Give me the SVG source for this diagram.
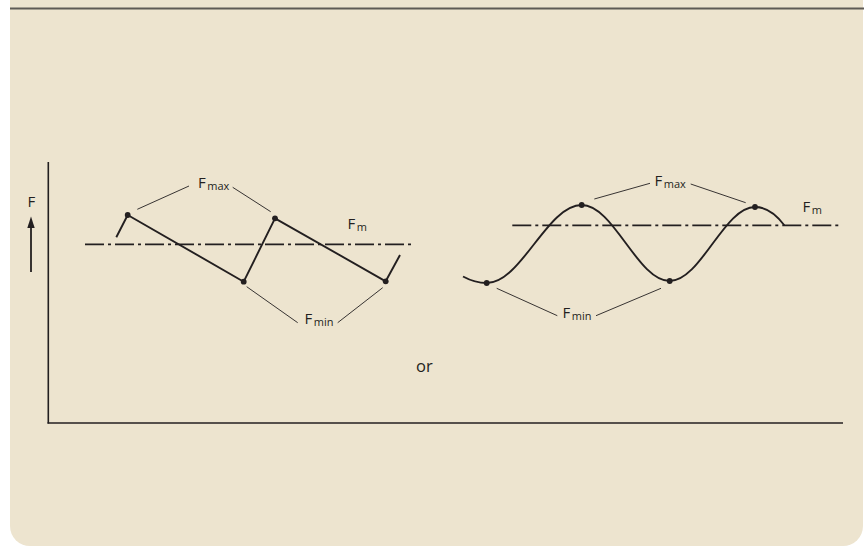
<svg xmlns="http://www.w3.org/2000/svg" width="864" height="546" viewBox="0 0 864 546">
<style>
  .lbl{font-family:"Open Sans","Liberation Sans",sans-serif;font-size:15px;fill:#231f20}
  .sub{font-size:11px}
  .curve{fill:none;stroke:#231f20;stroke-width:1.9;stroke-linejoin:round}
  .lead{fill:none;stroke:#231f20;stroke-width:0.9}
  .axis{fill:none;stroke:#231f20;stroke-width:1.6}
  .center{fill:none;stroke:#231f20;stroke-width:1.7;stroke-dasharray:19 4 3 4}
  .dot{fill:#231f20}
</style>
<rect x="0" y="0" width="864" height="546" fill="#ffffff"/>
<path d="M10,0 H863 V526 A20,20 0 0 1 843,546 H30 A20,20 0 0 1 10,526 Z" fill="#ede4cf"/>
<line x1="10" y1="8.5" x2="864" y2="8.5" stroke="#5e5a55" stroke-width="2"/>

<g id="axes">
  <line class="axis" x1="48.3" y1="162" x2="48.3" y2="423.5"/>
  <line class="axis" x1="47.5" y1="423" x2="843" y2="423"/>
</g>
<g id="f-axis-label">
  <text class="lbl" x="27.5" y="206.5">F</text>
  <line x1="31" y1="272" x2="31" y2="226" stroke="#231f20" stroke-width="1.8"/>
  <polygon class="dot" points="31,216.5 27.3,228 34.7,228"/>
</g>

<g id="connectors">
  <line class="center" x1="85" y1="244.3" x2="414" y2="244.3"/>
  <polyline class="curve" points="116.3,237.3 127.7,215 243.7,281.7 275,218.3 385.7,281.3 400,255"/>
  <line class="lead" x1="137.3" y1="209.3" x2="189" y2="186"/>
  <line class="lead" x1="232.7" y1="187.3" x2="270.7" y2="211.7"/>
  <line class="lead" x1="246.7" y1="286.7" x2="297.7" y2="322.7"/>
  <line class="lead" x1="337.7" y1="322.7" x2="382.7" y2="287.7"/>
  <line class="center" x1="512.3" y1="225.3" x2="841.7" y2="225.3"/>
  <path class="curve" d="M463,276.5 Q475,283 486.7,283 C521.3,283 547.1,205 581.7,205 C613.8,205 637.6,281 669.7,281 C700.7,281 724,207 755,207 C767,207 776,214 784.3,225.3"/>
  <line class="lead" x1="594.3" y1="199" x2="650" y2="183.3"/>
  <line class="lead" x1="690.7" y1="184" x2="745.7" y2="202.7"/>
  <line class="lead" x1="496.7" y1="288.3" x2="557.3" y2="315.7"/>
  <line class="lead" x1="596" y1="315.7" x2="661" y2="288.3"/>
</g>

<g id="left-points">
  <circle class="dot" cx="127.7" cy="215" r="2.9"/>
  <circle class="dot" cx="243.7" cy="281.7" r="2.9"/>
  <circle class="dot" cx="275" cy="218.3" r="2.9"/>
  <circle class="dot" cx="385.7" cy="281.3" r="2.9"/>
</g>
<g id="right-points">
  <circle class="dot" cx="486.7" cy="283" r="2.9"/>
  <circle class="dot" cx="581.7" cy="205" r="2.9"/>
  <circle class="dot" cx="669.7" cy="281" r="2.9"/>
  <circle class="dot" cx="755" cy="207" r="2.9"/>
</g>

<g id="label-fmax-left"><text class="lbl" x="198" y="187.5">F<tspan class="sub" dx="1.5" dy="2">max</tspan></text></g>
<g id="label-fm-left"><text class="lbl" x="347.5" y="228.5">F<tspan class="sub" dx="1.5" dy="2">m</tspan></text></g>
<g id="label-fmin-left"><text class="lbl" x="304.5" y="323.5">F<tspan class="sub" dx="1.5" dy="2">min</tspan></text></g>

<g id="label-fmax-right"><text class="lbl" x="654.5" y="185.5">F<tspan class="sub" dx="1.5" dy="2">max</tspan></text></g>
<g id="label-fm-right"><text class="lbl" x="802.5" y="211.5">F<tspan class="sub" dx="1.5" dy="2">m</tspan></text></g>
<g id="label-fmin-right"><text class="lbl" x="562.5" y="318">F<tspan class="sub" dx="1.5" dy="2">min</tspan></text></g>

<g id="label-or"><text class="lbl" x="416" y="372" style="font-size:16.5px">or</text></g>
</svg>
